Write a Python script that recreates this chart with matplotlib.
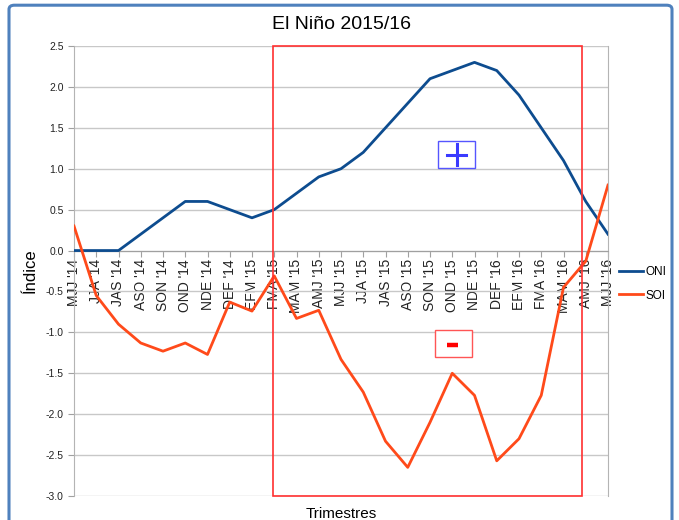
import matplotlib.pyplot as plt
from matplotlib.patches import FancyBboxPatch, Rectangle

plt.rcParams['font.family'] = ['Liberation Sans', 'DejaVu Sans']

# Trimestres (3-month seasons)
trimestres = ["MJJ '14", "JJA '14", "JAS '14", "ASO '14", "SON '14", "OND '14", "NDE '14",
              "DEF '14", "EFM '15", "FMA '15", "MAM '15", "AMJ '15", "MJJ '15", "JJA '15",
              "JAS '15", "ASO '15", "SON '15", "OND '15", "NDE '15", "DEF '16", "EFM '16",
              "FMA '16", "MAM '16", "AMJ '16", "MJJ '16"]

oni = [0.0, 0.0, 0.0, 0.2, 0.4, 0.6, 0.6, 0.5, 0.4, 0.5, 0.7, 0.9, 1.0, 1.2,
       1.5, 1.8, 2.1, 2.2, 2.3, 2.2, 1.9, 1.5, 1.1, 0.6, 0.2]

soi = [0.3, -0.55, -0.9, -1.13, -1.23, -1.13, -1.27, -0.63, -0.74, -0.31, -0.83, -0.73,
       -1.33, -1.73, -2.33, -2.65, -2.1, -1.5, -1.77, -2.57, -2.3, -1.77, -0.45, -0.13, 0.8]

x = list(range(len(trimestres)))

fig = plt.figure(figsize=(6.79, 5.20), dpi=100)
ax = fig.add_axes([74 / 679, 1 - 496 / 520, 534 / 679, 450 / 520])

# outer blue frame of the chart
frame = FancyBboxPatch((9 / 679, -0.05), 663 / 679, 1.04, boxstyle="round,pad=0,rounding_size=0.008",
                       transform=fig.transFigure, fill=False, edgecolor='#4f81bd', linewidth=2.2,
                       clip_on=False, zorder=-1)
fig.patches.append(frame)

ax.plot(x, oni, color='#0d4c8f', linewidth=2, label='ONI', zorder=3)
ax.plot(x, soi, color='#ff4a1a', linewidth=2, label='SOI', zorder=3)

ax.set_xlim(0, len(x) - 1)
ax.set_ylim(-3.0, 2.5)
ax.set_yticks([i * 0.5 for i in range(-6, 6)])
ax.set_yticklabels([f"{i * 0.5:.1f}" for i in range(-6, 6)], fontsize=7.5)
ax.grid(axis='y', color='#c8c8c8', linewidth=1)
ax.set_axisbelow(True)

ax.set_xticks(x)
ax.set_xticklabels(trimestres, fontsize=7.3)
ax.spines['bottom'].set_position(('data', 0))
ax.spines['bottom'].set_color('#a0a0a0')
for s in ['left', 'right']:
    ax.spines[s].set_color('#b4b4b4')
ax.spines['top'].set_visible(False)
ax.tick_params(axis='both', colors='#a0a0a0', length=4, labelcolor='#222222')
ax.tick_params(axis='x', pad=2, labelrotation=90)

# highlighted period and sign boxes
ax.add_patch(Rectangle((8.95, -3.0), 13.9, 5.5, fill=False, edgecolor='#ff3030',
                       linewidth=1.2, zorder=4, clip_on=False))
ax.add_patch(Rectangle((16.36, 1.015), 1.66, 0.33, facecolor='white', edgecolor='#5555ff',
                       linewidth=1, zorder=5))
ax.plot([16.78, 17.62], [1.17, 1.17], color='#3a3aff', linewidth=2.2, zorder=6)
ax.plot([17.2, 17.2], [1.05, 1.30], color='#3a3aff', linewidth=2.2, zorder=6)
ax.add_patch(Rectangle((16.22, -1.296), 1.67, 0.33, facecolor='white', edgecolor='#ff5555',
                       linewidth=1, zorder=5))
ax.plot([16.76, 17.26], [-1.15, -1.15], color='#ff0000', linewidth=3.2,
        solid_capstyle='butt', zorder=6)

ax.set_title('El Niño 2015/16', fontsize=14, pad=12)
ax.set_ylabel('Índice', fontsize=12)
ax.yaxis.set_label_coords(-0.068, 0.5)
ax.set_xlabel('Trimestres', fontsize=11)
ax.xaxis.set_label_coords(0.5, -0.025)

leg = ax.legend(loc='center left', bbox_to_anchor=(1.0, 0.472), frameon=False, fontsize=8.5,
                handlelength=2.1, handletextpad=0.15, labelspacing=1.0)

fig.savefig('out.png', dpi=100)
